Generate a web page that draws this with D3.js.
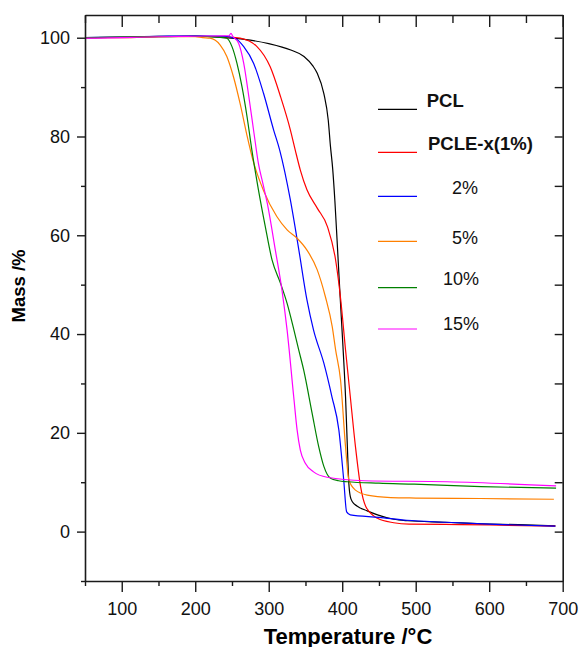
<!DOCTYPE html>
<html>
<head>
<meta charset="utf-8">
<script src="https://cdn.jsdelivr.net/npm/d3@7/dist/d3.min.js"></script>
<style>
  html, body { margin: 0; padding: 0; background: #fff; }
  svg { display: block; font-family: "Liberation Sans", Arial, sans-serif; }
</style>
</head>
<body>
<svg id="chart" width="584" height="647"></svg>
<script>
// Thermogravimetric curves: mass retained (%) versus temperature (°C)
const seriesNames = ["PCL", "PCLE-x(1%)", "2%", "5%", "10%", "15%"];
const seriesColors = ["#000000", "#ff0000", "#0000ff", "#ff8000", "#008000", "#ff00ff"];

const pclTemp = [50, 100, 150, 200, 240, 275, 300, 330, 348, 360, 366, 375, 381, 384, 387, 390, 393, 397, 401, 404.5, 407, 409, 411, 414, 420, 434, 448, 470, 489, 540, 589, 640, 690];
const pclMass = [100.0, 100.1, 100.3, 100.3, 100.0, 99.5, 98.8, 97.5, 96.2, 94.3, 92.8, 88.7, 83.3, 78.0, 73.5, 67.0, 59.0, 48.0, 37.5, 27.3, 17.2, 9.8, 7.1, 6.0, 5.2, 4.2, 3.4, 2.5, 2.2, 1.9, 1.56, 1.4, 1.15];

const pcle1Temp = [50, 100, 150, 200, 240, 261, 284, 302, 316, 329.5, 336, 343, 352, 366, 380, 391, 398, 404.5, 411, 418, 425, 432, 448, 470, 491, 540, 600, 690];
const pcle1Mass = [100.0, 100.0, 100.2, 100.3, 100.2, 99.9, 98.2, 94.1, 88.1, 81.3, 77.3, 73.2, 69.2, 65.5, 61.7, 55.0, 46.9, 36.8, 27.3, 17.2, 9.1, 5.1, 2.7, 1.8, 1.5, 1.45, 1.35, 1.1];

const pcle2Temp = [50, 150, 200, 240, 255, 266, 279.5, 293, 306.7, 315, 329.5, 341, 352, 361, 375, 386, 395.4, 402, 406, 411, 450, 488, 540, 600, 690];
const pcle2Mass = [100.0, 100.3, 100.4, 100.3, 99.8, 98.2, 94.8, 88.7, 81.3, 77.2, 67.1, 57.0, 46.9, 40.8, 34.1, 27.3, 20.6, 10.5, 4.0, 3.4, 2.9, 2.3, 1.9, 1.5, 1.1];

const pcle5Temp = [50, 150, 200, 210, 220, 234, 243, 252, 261, 270, 278, 293, 311, 325, 338.6, 352, 366, 377, 386.4, 391, 397.7, 404.5, 409, 418, 434, 466, 500, 588, 688];
const pcle5Mass = [100.0, 100.2, 100.2, 100.0, 99.9, 98.5, 96.2, 92.1, 86.7, 80.5, 75.5, 69.0, 63.8, 61.1, 59.4, 57.0, 53.0, 47.6, 41.5, 36.8, 30.7, 17.2, 10.5, 8.4, 7.4, 6.9, 6.8, 6.7, 6.55];

const pcle10Temp = [50, 150, 200, 230, 243, 250, 256.8, 263.6, 270.5, 277, 286, 295.4, 304.5, 316, 325, 334, 340.8, 347.6, 359, 368, 375, 384, 395, 407, 450, 498, 589, 691];
const pcle10Mass = [100.0, 100.2, 100.3, 100.1, 99.9, 98.2, 94.8, 90.1, 84.0, 77.3, 69.2, 61.7, 55.0, 50.3, 46.2, 41.0, 36.8, 32.7, 24.0, 17.2, 13.2, 10.8, 10.3, 10.1, 9.8, 9.6, 9.1, 8.8];

const pcle15Temp = [50, 100, 150, 200, 240, 246, 248.6, 251, 259, 266, 273, 280, 286, 292, 298, 309, 318, 325, 334, 338.6, 343, 350, 361, 379.5, 430, 543, 691];
const pcle15Mass = [99.9, 100.0, 100.2, 100.3, 100.4, 100.4, 100.9, 100.3, 98.9, 94.8, 88.0, 80.6, 74.5, 70.5, 66.5, 57.0, 48.9, 40.8, 27.3, 20.6, 16.5, 13.8, 12.1, 11.0, 10.3, 10.1, 9.25];

const seriesTemps = [pclTemp, pcle1Temp, pcle2Temp, pcle5Temp, pcle10Temp, pcle15Temp];
const seriesMasses = [pclMass, pcle1Mass, pcle2Mass, pcle5Mass, pcle10Mass, pcle15Mass];

const xTickValues = [100, 200, 300, 400, 500, 600, 700];
const xMinorValues = [50, 150, 250, 350, 450, 550, 650];
const yTickValues = [0, 20, 40, 60, 80, 100];
const yMinorValues = [-10, 10, 30, 50, 70, 90];

// Plot frame
const frameLeft = 85, frameRight = 562.7, frameTop = 15, frameBottom = 581;

const x = d3.scaleLinear().domain([50, 700]).range([frameLeft, frameRight]);
const y = d3.scaleLinear().domain([-10, 104.6]).range([frameBottom, frameTop]);

const svg = d3.select("#chart");
const axisColor = "#1a1a1a";

// Data curves
const line = d3.line()
  .x(d => x(d[0]))
  .y(d => y(d[1]))
  .curve(d3.curveMonotoneX);

const plot = svg.append("g");
seriesNames.forEach((name, i) => {
  const pts = seriesTemps[i].map((t, k) => [t, seriesMasses[i][k]]);
  plot.append("path")
    .datum(pts)
    .attr("fill", "none")
    .attr("stroke", seriesColors[i])
    .attr("stroke-width", 1.2)
    .attr("stroke-linejoin", "round")
    .attr("d", line);
});

// Axes: labelled major ticks outward on bottom/left, mirrored ticks inward on top/right
function styleAxis(g) {
  g.select(".domain").attr("stroke", axisColor).attr("stroke-width", 1.6);
  g.selectAll(".tick line").attr("stroke", axisColor).attr("stroke-width", 1.4);
  g.selectAll(".tick text").attr("fill", "#111").style("font-size", "18px")
    .style("font-family", "'Liberation Sans', Arial, sans-serif");
}
function styleMinor(g) {
  g.select(".domain").remove();
  g.selectAll("line").attr("stroke", axisColor).attr("stroke-width", 1.4);
}

const xBottom = svg.append("g").attr("transform", `translate(0,${frameBottom})`)
  .call(d3.axisBottom(x).tickValues(xTickValues).tickSize(11).tickPadding(10).tickSizeOuter(0));
styleAxis(xBottom);
svg.append("g").attr("transform", `translate(0,${frameBottom})`)
  .call(d3.axisBottom(x).tickValues(xMinorValues).tickSize(5).tickFormat("").tickSizeOuter(0))
  .call(styleMinor);

const yLeft = svg.append("g").attr("transform", `translate(${frameLeft},0)`)
  .call(d3.axisLeft(y).tickValues(yTickValues).tickSize(8).tickPadding(7).tickSizeOuter(0));
styleAxis(yLeft);
svg.append("g").attr("transform", `translate(${frameLeft},0)`)
  .call(d3.axisLeft(y).tickValues(yMinorValues).tickSize(4).tickFormat("").tickSizeOuter(0))
  .call(styleMinor);

const xTop = svg.append("g").attr("transform", `translate(0,${frameTop})`)
  .call(d3.axisBottom(x).tickValues(xTickValues).tickSize(12).tickFormat("").tickSizeOuter(0));
styleAxis(xTop);
svg.append("g").attr("transform", `translate(0,${frameTop})`)
  .call(d3.axisBottom(x).tickValues(xMinorValues).tickSize(8).tickFormat("").tickSizeOuter(0))
  .call(styleMinor);

const yRight = svg.append("g").attr("transform", `translate(${frameRight},0)`)
  .call(d3.axisLeft(y).tickValues(yTickValues.concat(yMinorValues.slice(1))).tickSize(8).tickFormat("").tickSizeOuter(0));
styleAxis(yRight);

// Axis titles
svg.append("text")
  .attr("x", 348).attr("y", 644)
  .attr("text-anchor", "middle")
  .style("font-size", "22px").style("font-weight", "bold").attr("fill", "#000")
  .text("Temperature /°C");

svg.append("text")
  .attr("transform", `translate(25,286) rotate(-90)`)
  .attr("text-anchor", "middle")
  .style("font-size", "18.5px").style("font-weight", "bold").attr("fill", "#000")
  .text("Mass /%");

// Legend
const legendLineX = [378, 417];
const legendRowY = [109.3, 152.3, 196.3, 241.3, 287.7, 329];
const legendTextX = [426.7, 428, 452, 452, 443, 443];
const legendTextY = [106.5, 149.5, 193.5, 243.5, 284.5, 329.5];
const legendBold = [true, true, false, false, false, false];

const legend = svg.append("g");
seriesNames.forEach((name, i) => {
  legend.append("line")
    .attr("x1", legendLineX[0]).attr("x2", legendLineX[1])
    .attr("y1", legendRowY[i]).attr("y2", legendRowY[i])
    .attr("stroke", seriesColors[i]).attr("stroke-width", 1.2);
  legend.append("text")
    .attr("x", legendTextX[i]).attr("y", legendTextY[i])
    .style("font-size", legendBold[i] ? "18.5px" : "18px")
    .style("font-weight", legendBold[i] ? "bold" : "normal")
    .attr("fill", "#111")
    .text(name);
});
</script>
</body>
</html>
